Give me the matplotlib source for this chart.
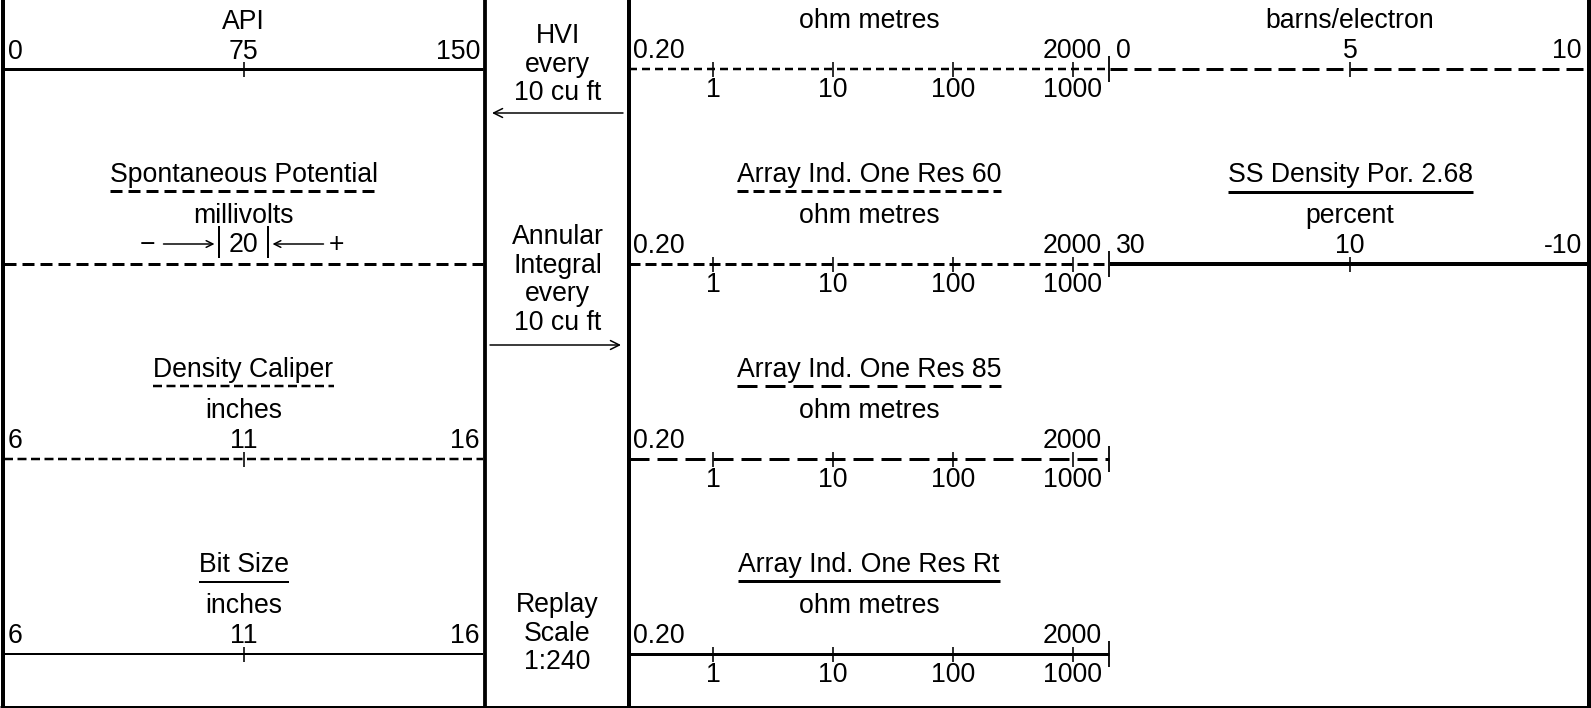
import matplotlib
matplotlib.use('Agg')
import matplotlib.pyplot as plt

plt.rcParams['font.family'] = ['Liberation Sans', 'DejaVu Sans']
plt.rcParams['lines.scale_dashes'] = False

# ---------------- data ----------------
gr_range = [0, 150]
gr_ticks = [75]
sp_scale = 20
cal_range = [6, 16]
cal_ticks = [11]
bit_range = [6, 16]
bit_ticks = [11]
res_range = [0.2, 2000]
res_ticks = [1, 10, 100, 1000]
pef_range = [0, 10]
pef_ticks = [5]
por_range = [30, -10]
por_ticks = [10]

track1_titles = [None, 'Spontaneous Potential', 'Density Caliper', 'Bit Size']
track1_units = ['API', 'millivolts', 'inches', 'inches']
track2_titles = [None, 'Array Ind. One Res 60', 'Array Ind. One Res 85', 'Array Ind. One Res Rt']
track2_units = ['ohm metres', 'ohm metres', 'ohm metres', 'ohm metres']
track3_titles = [None, 'SS Density Por. 2.68']
track3_units = ['barns/electron', 'percent']
depth_notes = [['HVI', 'every', '10 cu ft'],
               ['Annular', 'Integral', 'every', '10 cu ft'],
               ['Replay', 'Scale', '1:240']]

# ---------------- layout ----------------
W, H, DPI = 1591, 708, 100
PX = 72.0 / DPI
FS = 19.2
row_y = [69, 264, 459, 654]
T1 = (4, 483)
TD = (487, 627)
T2 = (629, 1109)
T3 = (1110, 1590)

fig = plt.figure(figsize=(W / DPI, H / DPI), dpi=DPI)
fig.patch.set_facecolor('white')

base = fig.add_axes([0, 0, 1, 1])
base.set_xlim(0, W)
base.set_ylim(H, 0)
base.set_axis_off()

renderer = fig.canvas.get_renderer()


def track_ax(x0, x1, lo, hi, log=False):
    ax = fig.add_axes([x0 / W, 0, (x1 - x0) / W, 1])
    ax.set_axis_off()
    ax.patch.set_alpha(0)
    if log:
        ax.set_xscale('log')
    ax.set_xlim(lo, hi)
    ax.set_ylim(H, 0)
    return ax


def dash(style):
    if style == '-':
        return '-'
    return (0, tuple(v * PX for v in style))


def curve(ax, lo, hi, y, ticks, lw, ls, end_tick=False):
    ax.plot([lo, hi], [y, y], color='k', lw=lw * PX, linestyle=dash(ls),
            clip_on=False, solid_capstyle='butt', dash_capstyle='butt')
    if ticks:
        ax.plot(ticks, [y] * len(ticks), linestyle='none', marker='|',
                ms=15 * PX, mew=1.6 * PX, color='k', clip_on=False)
    if end_tick:
        ax.plot([hi], [y], linestyle='none', marker='|', ms=26 * PX,
                mew=1.8 * PX, color='k', clip_on=False)


def txt(ax, x, y, s, ha='center', dx=0):
    return ax.annotate(s, (x, y), xytext=(dx, 0), textcoords='offset pixels',
                       ha=ha, va='baseline', fontsize=FS, annotation_clip=False)


def title(ax, x, y, s, lw, ls, uy):
    t = txt(ax, x, y, s)
    bb = t.get_window_extent(renderer)
    inv = ax.transData.inverted()
    xa = inv.transform((bb.x0, 0))[0]
    xb = inv.transform((bb.x1, 0))[0]
    ax.plot([xa, xb], [uy, uy], color='k', lw=lw * PX, linestyle=dash(ls),
            clip_on=False, solid_capstyle='butt', dash_capstyle='butt')


def mid(lo, hi, log=False):
    if log:
        return (lo * hi) ** 0.5
    return (lo + hi) / 2.0


# ---------- track 1 ----------
a_gr = track_ax(*T1, *gr_range)
y = row_y[0]
curve(a_gr, *gr_range, y, gr_ticks, 3, '-')
txt(a_gr, mid(*gr_range), y - 40, track1_units[0])
txt(a_gr, gr_range[0], y - 10, f'{gr_range[0]}', 'left', 4)
txt(a_gr, gr_ticks[0], y - 10, f'{gr_ticks[0]}')
txt(a_gr, gr_range[1], y - 10, f'{gr_range[1]}', 'right', -3)

# SP
a_sp = track_ax(*T1, 0, 1)
y = row_y[1]
curve(a_sp, 0, 1, y, [], 3, (12, 6))
title(a_sp, 0.5, y - 82, track1_titles[1], 3, (12, 6), y - 73)
txt(a_sp, 0.5, y - 41, track1_units[1])
xc = (T1[0] + T1[1]) / 2.0
base.text(xc, y - 12, f'{sp_scale}', ha='center', va='baseline', fontsize=FS)
base.text(xc - 96, y - 12, '\u2212', ha='center', va='baseline', fontsize=FS)
base.text(xc + 93, y - 12, '+', ha='center', va='baseline', fontsize=FS)
for bx in (xc - 25, xc + 24):
    base.plot([bx, bx], [y - 37, y - 7], color='k', lw=2 * PX)
base.annotate('', xy=(xc - 29, y - 20), xytext=(xc - 80, y - 20),
              arrowprops=dict(arrowstyle='->', lw=1.5 * PX, color='k',
                              mutation_scale=12, shrinkA=0, shrinkB=0))
base.annotate('', xy=(xc + 29, y - 20), xytext=(xc + 80, y - 20),
              arrowprops=dict(arrowstyle='->', lw=1.5 * PX, color='k',
                              mutation_scale=12, shrinkA=0, shrinkB=0))

# Caliper
a_cal = track_ax(*T1, *cal_range)
y = row_y[2]
curve(a_cal, *cal_range, y, cal_ticks, 2.5, (9, 4.5))
title(a_cal, mid(*cal_range), y - 82, track1_titles[2], 2.5, (9, 4.5), y - 73)
txt(a_cal, mid(*cal_range), y - 41, track1_units[2])
txt(a_cal, cal_range[0], y - 11, f'{cal_range[0]}', 'left', 4)
txt(a_cal, cal_ticks[0], y - 11, f'{cal_ticks[0]}')
txt(a_cal, cal_range[1], y - 11, f'{cal_range[1]}', 'right', -4)

# Bit size
a_bit = track_ax(*T1, *bit_range)
y = row_y[3]
curve(a_bit, *bit_range, y, bit_ticks, 2, '-')
title(a_bit, mid(*bit_range), y - 82, track1_titles[3], 2, '-', y - 72)
txt(a_bit, mid(*bit_range), y - 41, track1_units[3])
txt(a_bit, bit_range[0], y - 11, f'{bit_range[0]}', 'left', 4)
txt(a_bit, bit_ticks[0], y - 11, f'{bit_ticks[0]}')
txt(a_bit, bit_range[1], y - 11, f'{bit_range[1]}', 'right', -4)

# ---------- track 2 (resistivity, log) ----------
res_styles = [(2.5, (8, 5)), (3, (11, 5)), (3, (20, 8)), (3, '-')]
for i, y in enumerate(row_y):
    ax = track_ax(*T2, *res_range, log=True)
    lw, ls = res_styles[i]
    curve(ax, *res_range, y, res_ticks, lw, ls, end_tick=True)
    m = mid(*res_range, log=True)
    if track2_titles[i]:
        title(ax, m, y - 82, track2_titles[i], lw, ls, y - 73)
    txt(ax, m, y - 41, track2_units[i])
    txt(ax, res_range[0], y - 11, f'{res_range[0]:.2f}', 'left', 4)
    txt(ax, res_range[1], y - 11, f'{res_range[1]}', 'right', -7)
    for tv in res_ticks:
        txt(ax, tv, y + 28, f'{tv}')

# ---------- track 3 ----------
a_pef = track_ax(*T3, *pef_range)
y = row_y[0]
curve(a_pef, *pef_range, y, pef_ticks, 3, (17, 7))
txt(a_pef, mid(*pef_range), y - 41, track3_units[0])
txt(a_pef, pef_range[0], y - 11, f'{pef_range[0]}', 'left', 6)
txt(a_pef, pef_ticks[0], y - 11, f'{pef_ticks[0]}')
txt(a_pef, pef_range[1], y - 11, f'{pef_range[1]}', 'right', -8)

a_por = track_ax(*T3, *por_range)
y = row_y[1]
curve(a_por, *por_range, y, por_ticks, 4, '-')
title(a_por, mid(*por_range), y - 82, track3_titles[1], 3, '-', y - 72)
txt(a_por, mid(*por_range), y - 41, track3_units[1])
txt(a_por, por_range[0], y - 11, f'{por_range[0]}', 'left', 6)
txt(a_por, por_ticks[0], y - 11, f'{por_ticks[0]}')
txt(a_por, por_range[1], y - 11, f'{por_range[1]}', 'right', -8)

# ---------- depth track ----------
xd = (TD[0] + TD[1]) / 2.0 + 0.5
note_top = [43, 244, 612]
LS = 28.7
for lines_, top in zip(depth_notes, note_top):
    for k, s in enumerate(lines_):
        base.text(xd, top + k * LS, s, ha='center', va='baseline', fontsize=FS)
base.annotate('', xy=(492, 113), xytext=(623, 113),
              arrowprops=dict(arrowstyle='->', lw=1.5 * PX, color='k',
                              mutation_scale=16, shrinkA=0, shrinkB=0))
base.annotate('', xy=(621, 345), xytext=(490, 345),
              arrowprops=dict(arrowstyle='->', lw=1.5 * PX, color='k',
                              mutation_scale=16, shrinkA=0, shrinkB=0))

# ---------- borders ----------
for bx, bw in [(2.5, 4), (485, 3.8), (629, 4), (1589, 4)]:
    base.plot([bx, bx], [0, H], color='k', lw=bw * PX, solid_capstyle='butt')
base.plot([0, W], [706.5, 706.5], color='k', lw=3 * PX, solid_capstyle='butt')

fig.savefig('out.png', dpi=DPI, facecolor='white')
